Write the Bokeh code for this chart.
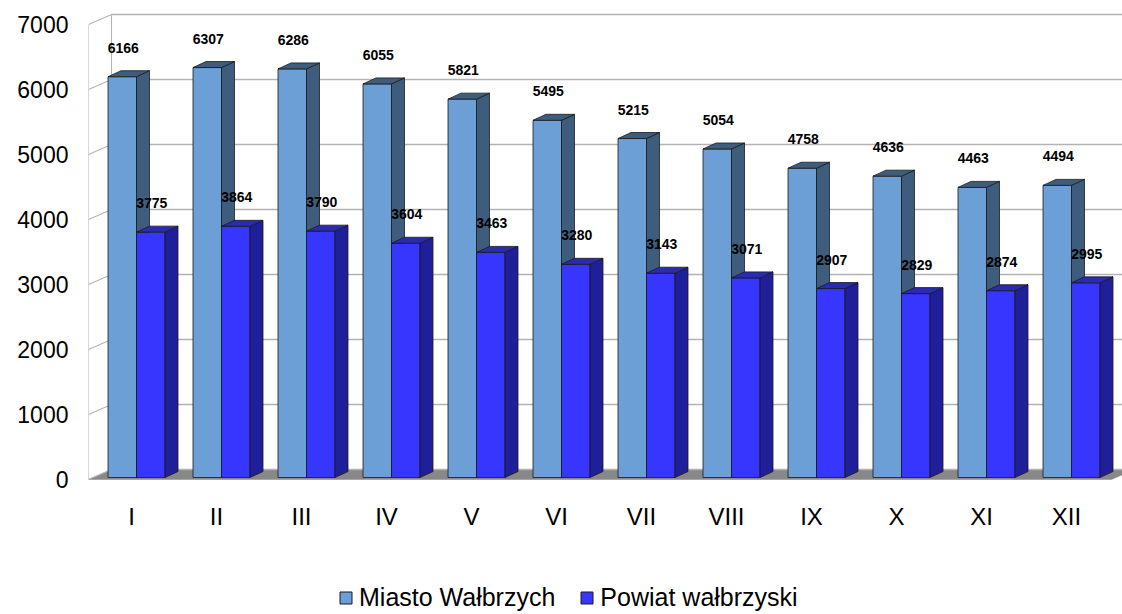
from bokeh.plotting import figure
from bokeh.layouts import column
from bokeh.models import ColumnDataSource, Range1d, FixedTicker, Legend, LegendItem
from bokeh.core.properties import value
from bokeh.embed import file_html
from bokeh.resources import INLINE

# ---------------- data ----------------
categories = ["I", "II", "III", "IV", "V", "VI", "VII", "VIII", "IX", "X", "XI", "XII"]
miasto = [6166, 6307, 6286, 6055, 5821, 5495, 5215, 5054, 4758, 4636, 4463, 4494]
powiat = [3775, 3864, 3790, 3604, 3463, 3280, 3143, 3071, 2907, 2829, 2874, 2995]
series_names = ["Miasto Wałbrzych", "Powiat wałbrzyski"]
y_ticks = [0, 1000, 2000, 3000, 4000, 5000, 6000, 7000]

# ---------------- layout / styling constants ----------------
W, H = 1122, 560
LEG_H = 54
BL, BT, BB, BR = 88, 12, 79, 0
FRAME_W = W - BL - BR
FRAME_H = H - BT - BB
PX_PER_CAT = 85.0          # px per category
PX_PER_UNIT = 0.065        # px per value unit
DXU = 1.0 / PX_PER_CAT     # data-x per px
DYU = 1.0 / PX_PER_UNIT    # data-y per px

CAT1_PX = 43               # first tick from frame left, px
x_start = 1 - CAT1_PX * DXU
x_end = x_start + FRAME_W * DXU
y_start = -2 * DYU
y_end = y_start + FRAME_H * DYU

BAR_SHIFT = 5              # px, boundary between the two bars relative to tick
BAR_W = 28.5               # px
BAR_LIFT = 2               # px
BDX, BDY = 13, 6           # bar depth px
WDX, WDY = 23, 10          # wall depth px

FONT = "Liberation Sans"
GRID = "#b3b3b3"
LIGHT = ("#6b9fd6", "#3e5c7c", "#3e5c7c")   # front, side, top
DARK = ("#3636ff", "#1f1f99", "#2a2ab2")
EDGE = "#1a1a1a"

p = figure(width=W, height=H, output_backend="svg", toolbar_location=None,
           x_range=Range1d(x_start, x_end), y_range=Range1d(y_start, y_end),
           min_border_left=BL, min_border_right=BR, min_border_top=BT,
           min_border_bottom=BB)
p.outline_line_color = None
p.xgrid.visible = False
p.ygrid.visible = False
p.background_fill_color = "white"
p.border_fill_color = "white"

# ---------------- floor ----------------
fx0 = x_start
fx1 = x_end - 11 * DXU
p.patch([fx0, fx1, fx1 + WDX * DXU, fx0 + WDX * DXU],
        [0, 0, WDY * DYU, WDY * DYU],
        fill_color="#888888", line_color="#888888", line_width=0.5)

# ---------------- walls / gridlines ----------------
xb = x_start + WDX * DXU
top = y_ticks[-1]
back_x0 = [xb] * len(y_ticks)
back_x1 = [x_end + 20 * DXU] * len(y_ticks)
back_y = [t + WDY * DYU for t in y_ticks]
p.segment(x0=back_x0, y0=back_y, x1=back_x1, y1=back_y, line_color=GRID, line_width=1.3)
p.segment(x0=[x_start] * len(y_ticks), y0=y_ticks, x1=[xb] * len(y_ticks), y1=back_y,
          line_color=GRID, line_width=1.1)
p.segment(x0=[x_start, xb], y0=[0, WDY * DYU], x1=[x_start, xb], y1=[top, top + WDY * DYU],
          line_color=GRID, line_width=1.1)

# ---------------- bars ----------------
y0 = BAR_LIFT * DYU
ddx, ddy = BDX * DXU, BDY * DYU


def bar_geometry(vals, left_px):
    L, R, T, sx, sy, tx, ty, cx = [], [], [], [], [], [], [], []
    for i, v in enumerate(vals):
        c = i + 1
        l = c + left_px * DXU
        r = l + BAR_W * DXU
        t = y0 + v
        L.append(l); R.append(r); T.append(t)
        sx.append([r, r + ddx, r + ddx, r])
        sy.append([y0, y0 + ddy, t + ddy, t])
        tx.append([l, l + ddx, r + ddx, r])
        ty.append([t, t + ddy, t + ddy, t])
        cx.append((l + r) / 2 + 1 * DXU)
    return L, R, T, sx, sy, tx, ty, cx


label_srcs = []
for vals, left_px, cols in [(miasto, BAR_SHIFT - BAR_W, LIGHT), (powiat, BAR_SHIFT, DARK)]:
    L, R, T, sx, sy, tx, ty, cx = bar_geometry(vals, left_px)
    p.quad(left=L, right=R, bottom=[y0] * len(vals), top=T,
           fill_color=cols[0], line_color=EDGE, line_width=0.8)
    p.patches(xs=sx, ys=sy, fill_color=cols[1], line_color=EDGE, line_width=0.8)
    p.patches(xs=tx, ys=ty, fill_color=cols[2], line_color=EDGE, line_width=0.8)
    label_srcs.append(ColumnDataSource(dict(x=cx, y=T, text=[str(v) for v in vals])))

for src in label_srcs:
    p.text(x="x", y="y", text="text", source=src, text_font=value(FONT),
           text_font_style="bold", text_font_size="14px", text_align="center",
           text_baseline="middle", y_offset=-29, text_color="black")

# ---------------- axes ----------------
p.yaxis.ticker = FixedTicker(ticks=y_ticks)
p.yaxis.axis_line_color = None
p.yaxis.major_tick_line_color = None
p.yaxis.minor_tick_line_color = None
p.yaxis.major_tick_in = 0
p.yaxis.major_tick_out = 0
p.yaxis.major_label_standoff = 20
p.yaxis.major_label_text_font = FONT
p.yaxis.major_label_text_font_size = "23px"
p.yaxis.major_label_text_color = "black"

p.xaxis.ticker = FixedTicker(ticks=list(range(1, len(categories) + 1)))
p.xaxis.major_label_overrides = {i + 1: c for i, c in enumerate(categories)}
p.xaxis.axis_line_color = None
p.xaxis.major_tick_line_color = None
p.xaxis.minor_tick_line_color = None
p.xaxis.major_tick_in = 0
p.xaxis.major_tick_out = 0
p.xaxis.major_label_standoff = 21
p.xaxis.major_label_text_font = FONT
p.xaxis.major_label_text_font_size = "24px"
p.xaxis.major_label_text_color = "black"

# ---------------- legend (separate strip below, frames aligned) ----------------
pl = figure(width=W, height=LEG_H, output_backend="svg", toolbar_location=None,
            x_range=Range1d(0, 1), y_range=Range1d(0, 1),
            x_axis_type=None, y_axis_type=None, min_border=0)
pl.outline_line_color = None
pl.xgrid.visible = False
pl.ygrid.visible = False
nan = float("nan")
leg_r = []
for cols in (LIGHT, DARK):
    leg_r.append(pl.quad(left=[nan], right=[nan], bottom=[nan], top=[nan],
                         fill_color=cols[0], line_color=EDGE, line_width=1))
legend = Legend(items=[LegendItem(label=series_names[0], renderers=[leg_r[0]]),
                       LegendItem(label=series_names[1], renderers=[leg_r[1]])],
                orientation="horizontal", location=(338 - BL, 2), padding=0, margin=0,
                spacing=24, label_standoff=6, glyph_width=15, glyph_height=15,
                label_text_font=FONT, label_text_font_size="25px",
                label_text_color="black", border_line_alpha=0,
                background_fill_alpha=0)
pl.add_layout(legend)

layout = column(p, pl, spacing=0)
open("out.html", "w").write(file_html(layout, INLINE))
